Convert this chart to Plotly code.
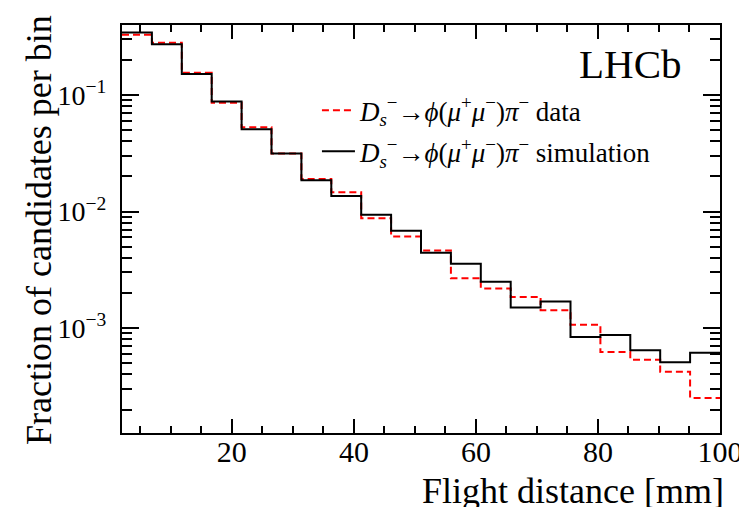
import plotly.graph_objects as go

# Binning: 20 equal bins of flight distance between 2 and 100 mm
bin_lo = 2.0
bin_hi = 100.0
n_bins = 20

# Fraction of candidates per bin
data_frac = [0.329, 0.281, 0.155, 0.0859, 0.0527, 0.0314, 0.0190, 0.01462, 0.00877, 0.00611,
             0.00463, 0.00268, 0.00219, 0.00185, 0.00142, 0.00107, 0.000622, 0.000536, 0.000422, 0.000251]
sim_frac = [0.343, 0.272, 0.151, 0.0877, 0.0507, 0.0314, 0.01854, 0.01361, 0.00937, 0.00684,
            0.00443, 0.00356, 0.00250, 0.00150, 0.00169, 0.000838, 0.000871, 0.000644, 0.000508, 0.000615]

x_tick_vals = [20, 40, 60, 80, 100]
y_tick_vals = [1e-3, 1e-2, 1e-1]
y_tick_text = ["10<sup>−3</sup>", "10<sup>−2</sup>", "10<sup>−1</sup>"]

data_label = ("<i>D</i><sub><i>s</i></sub><sup>−</sup>→<i>ϕ</i>(<i>μ</i><sup>+</sup><i>μ</i><sup>−</sup>)"
              "<i>π</i><sup>−</sup> data")
sim_label = ("<i>D</i><sub><i>s</i></sub><sup>−</sup>→<i>ϕ</i>(<i>μ</i><sup>+</sup><i>μ</i><sup>−</sup>)"
             "<i>π</i><sup>−</sup> simulation")

width = (bin_hi - bin_lo) / n_bins
edges = [bin_lo + i * width for i in range(n_bins + 1)]


def step(vals):
    # repeat the last content so the final bin closes at the upper edge
    return edges, list(vals) + [vals[-1]]


SERIF = "Liberation Serif"

fig = go.Figure()
x, y = step(data_frac)
fig.add_trace(go.Scatter(x=x, y=y, mode="lines", line_shape="hv", name=data_label,
                         line=dict(color="#ff0000", width=2, dash="7px,4px"), legendgroup="a"))
x, y = step(sim_frac)
fig.add_trace(go.Scatter(x=x, y=y, mode="lines", line_shape="hv", name=sim_label,
                         line=dict(color="black", width=2), legendgroup="b"))

axis_common = dict(showline=True, linecolor="black", linewidth=2, mirror="allticks",
                   ticks="inside", tickcolor="black", showgrid=False, zeroline=False,
                   automargin=False)

fig.update_xaxes(range=[bin_lo, bin_hi + 0.001], tickvals=x_tick_vals, ticklen=14, tickwidth=2,
                 ticklabelstandoff=-9, ticklabeloverflow="allow",
                 tickfont=dict(family=SERIF, size=30, color="black"),
                 minor=dict(ticks="inside", dtick=5, tick0=0, ticklen=7, tickwidth=1.5, tickcolor="black"),
                 **axis_common)
fig.update_yaxes(type="log", range=[-3.9, -0.4], tickvals=y_tick_vals, ticktext=y_tick_text,
                 ticklen=17, tickwidth=2, ticklabelstandoff=8,
                 tickfont=dict(family=SERIF, size=28, color="black"),
                 minor=dict(ticks="inside", dtick="D1", ticklen=10, tickwidth=1.5, tickcolor="black"),
                 **axis_common)

fig.add_annotation(text="Flight distance [mm]", xref="paper", yref="paper", x=1.01, y=-0.088,
                   xanchor="right", yanchor="top", showarrow=False,
                   font=dict(family=SERIF, size=36, color="black"))
fig.add_annotation(text="Fraction of candidates per bin", xref="paper", yref="paper", x=-0.14, y=1.03,
                   xanchor="center", yanchor="top", textangle=-90, showarrow=False,
                   font=dict(family=SERIF, size=36, color="black"))
fig.add_annotation(text="LHCb", xref="paper", yref="paper", x=0.94, y=0.965,
                   xanchor="right", yanchor="top", showarrow=False,
                   font=dict(family=SERIF, size=41, color="black"))

fig.update_layout(
    width=739, height=507,
    margin=dict(l=122, r=19, t=25, b=74),
    paper_bgcolor="white", plot_bgcolor="white",
    showlegend=True,
    legend=dict(x=0.326, y=0.85, xanchor="left", yanchor="top", bgcolor="rgba(0,0,0,0)",
                font=dict(family=SERIF, size=27, color="black"), tracegroupgap=3, itemwidth=33),
)

fig.write_html("out.html")
